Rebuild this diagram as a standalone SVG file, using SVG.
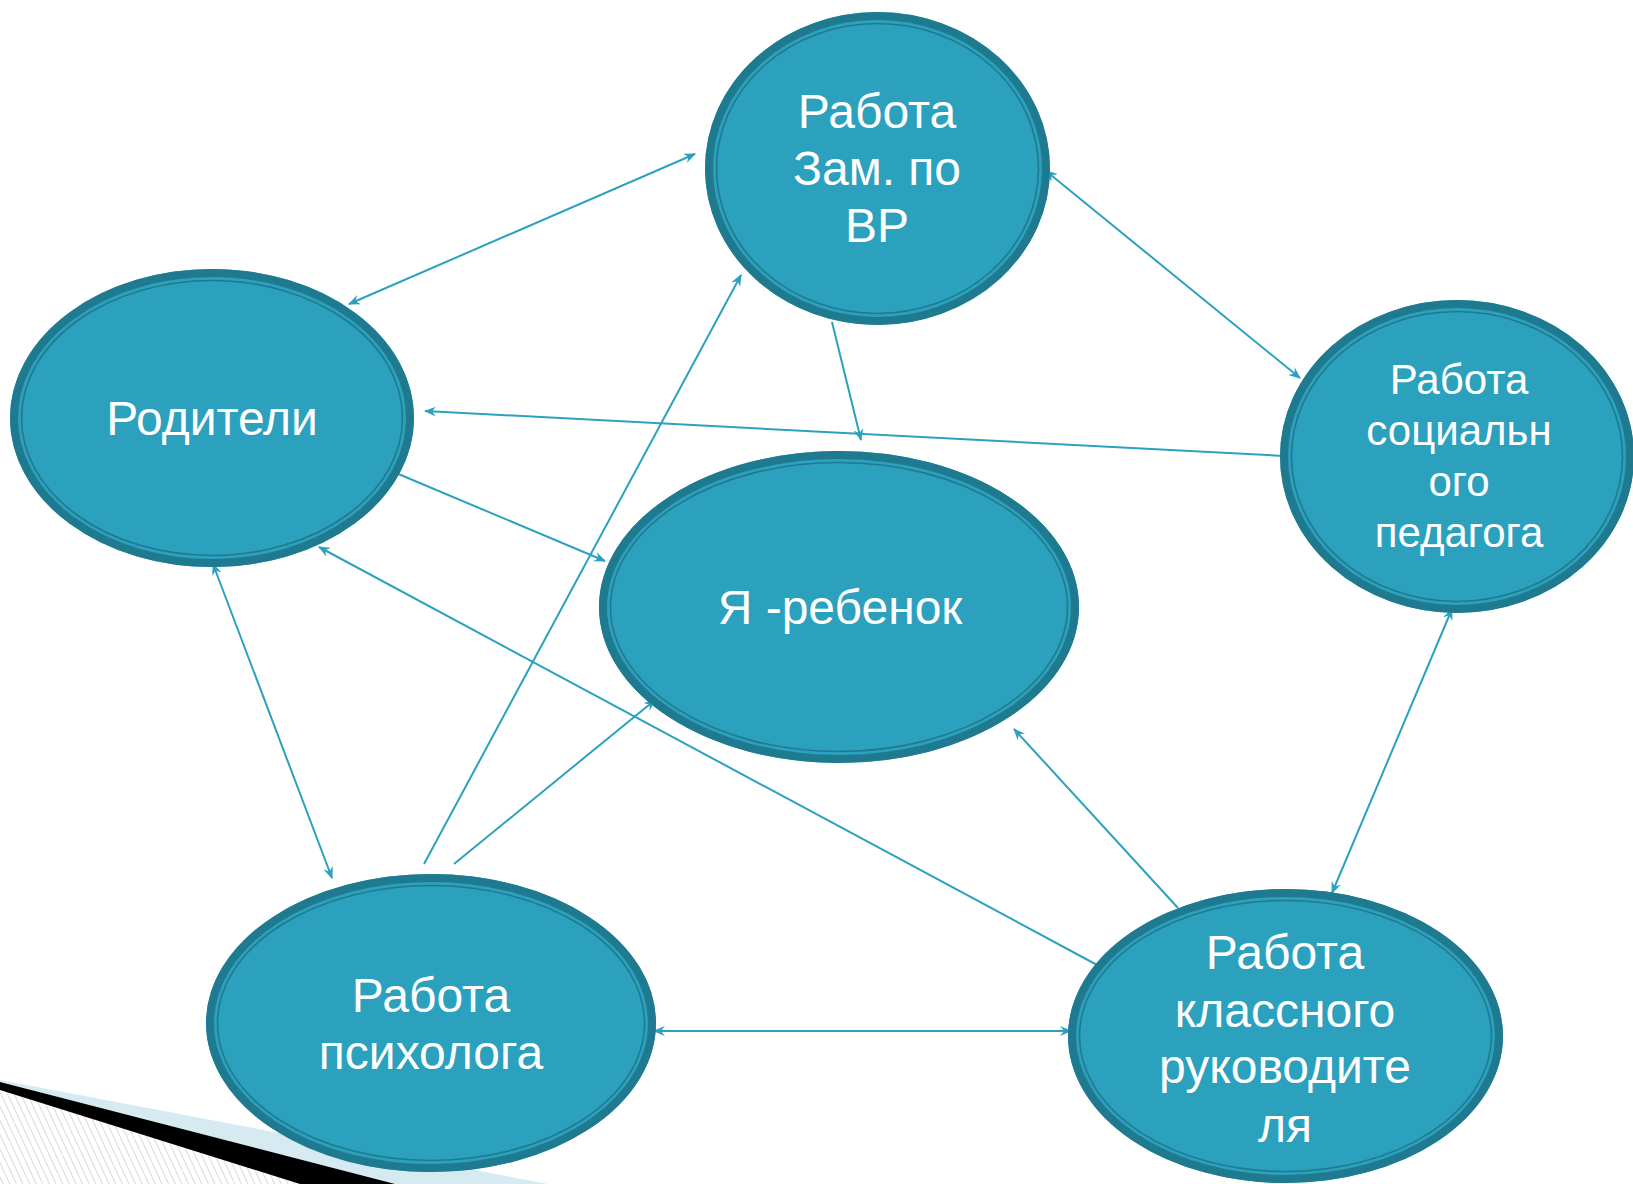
<svg xmlns="http://www.w3.org/2000/svg" width="1633" height="1184" viewBox="0 0 1633 1184">
  <style>
    .fill { fill: #2CA1BE; }
    .band { fill: none; stroke: #1F7A8F; stroke-width: 8; }
    .inner { fill: none; stroke: #1F7A8F; stroke-width: 1.6; }
    .lbl { font-family: "Liberation Sans", Arial, sans-serif; fill: #FFFFFF; text-anchor: middle; font-size: 48px; }
    .lbl-s { font-size: 42px; }
    .conn { stroke: #2CA1BE; stroke-width: 2; fill: none; }
  </style>
  <defs>
    <marker id="ah" viewBox="0 0 12 10" refX="11" refY="5" markerWidth="12" markerHeight="10" markerUnits="userSpaceOnUse" orient="auto-start-reverse">
      <path d="M0,0 L12,5 L0,10 L4,5 Z" fill="#2CA1BE"/>
    </marker>
    <pattern id="hatch" patternUnits="userSpaceOnUse" width="6" height="6" patternTransform="rotate(-25)">
      <rect width="6" height="6" fill="#FFFFFF"/>
      <line x1="0" y1="0" x2="0" y2="6" stroke="#B0B4B8" stroke-width="1"/>
    </pattern>
  </defs>

  <rect width="1633" height="1184" fill="#FFFFFF"/>

  <g id="decoration">
    <polygon points="0,1080 548,1184 0,1184" fill="#D6EAF1"/>
    <polygon points="0,1089 300,1184 0,1184" fill="url(#hatch)"/>
    <polygon points="0,1082 395,1184 300,1184 0,1090" fill="#000000"/>
  </g>

  <g id="connectors">
    <line class="conn" x1="349" y1="304" x2="695" y2="154" marker-start="url(#ah)" marker-end="url(#ah)"/>
    <line class="conn" x1="1046" y1="171" x2="1300" y2="378" marker-start="url(#ah)" marker-end="url(#ah)"/>
    <line class="conn" x1="832" y1="322" x2="861" y2="440" marker-end="url(#ah)"/>
    <line class="conn" x1="1284" y1="456" x2="425" y2="411" marker-end="url(#ah)"/>
    <line class="conn" x1="396" y1="473" x2="605" y2="561" marker-end="url(#ah)"/>
    <line class="conn" x1="213" y1="564" x2="332" y2="878" marker-start="url(#ah)" marker-end="url(#ah)"/>
    <line class="conn" x1="424" y1="864" x2="741" y2="275" marker-end="url(#ah)"/>
    <line class="conn" x1="454" y1="864" x2="655" y2="700" marker-end="url(#ah)"/>
    <line class="conn" x1="1099" y1="966" x2="319" y2="547" marker-end="url(#ah)"/>
    <line class="conn" x1="1178" y1="908" x2="1014" y2="729" marker-end="url(#ah)"/>
    <line class="conn" x1="1452" y1="609" x2="1332" y2="893" marker-start="url(#ah)" marker-end="url(#ah)"/>
    <line class="conn" x1="654" y1="1031" x2="1071" y2="1031" marker-start="url(#ah)" marker-end="url(#ah)"/>
  </g>

  <g id="node-zam">
    <ellipse class="fill" cx="877.5" cy="168.5" rx="172.5" ry="156.5"/>
    <ellipse class="band" cx="877.5" cy="168.5" rx="168.5" ry="152.5"/>
    <ellipse class="inner" cx="877.5" cy="168.5" rx="161" ry="145"/>
    <text class="lbl" x="877" y="128">Работа</text>
    <text class="lbl" x="877" y="185">Зам. по</text>
    <text class="lbl" x="877" y="242">ВР</text>
  </g>

  <g id="node-roditeli">
    <ellipse class="fill" cx="212" cy="418" rx="202" ry="149"/>
    <ellipse class="band" cx="212" cy="418" rx="198" ry="145"/>
    <ellipse class="inner" cx="212" cy="418" rx="190.5" ry="137.5"/>
    <text class="lbl" x="212" y="435">Родители</text>
  </g>

  <g id="node-ya">
    <ellipse class="fill" cx="839" cy="607" rx="240" ry="156"/>
    <ellipse class="band" cx="839" cy="607" rx="236" ry="152"/>
    <ellipse class="inner" cx="839" cy="607" rx="228.5" ry="144.5"/>
    <text class="lbl" x="840" y="624">Я -ребенок</text>
  </g>

  <g id="node-social">
    <ellipse class="fill" cx="1457" cy="456.5" rx="177" ry="156.5"/>
    <ellipse class="band" cx="1457" cy="456.5" rx="173" ry="152.5"/>
    <ellipse class="inner" cx="1457" cy="456.5" rx="165.5" ry="145"/>
    <text class="lbl lbl-s" x="1459" y="394">Работа</text>
    <text class="lbl lbl-s" x="1459" y="445">социальн</text>
    <text class="lbl lbl-s" x="1459" y="496">ого</text>
    <text class="lbl lbl-s" x="1459" y="547">педагога</text>
  </g>

  <g id="node-psych">
    <ellipse class="fill" cx="431" cy="1023" rx="225" ry="149"/>
    <ellipse class="band" cx="431" cy="1023" rx="221" ry="145"/>
    <ellipse class="inner" cx="431" cy="1023" rx="213.5" ry="137.5"/>
    <text class="lbl" x="431" y="1012">Работа</text>
    <text class="lbl" x="431" y="1069">психолога</text>
  </g>

  <g id="node-klass">
    <ellipse class="fill" cx="1285.5" cy="1036" rx="217.5" ry="147"/>
    <ellipse class="band" cx="1285.5" cy="1036" rx="213.5" ry="143"/>
    <ellipse class="inner" cx="1285.5" cy="1036" rx="206" ry="135.5"/>
    <text class="lbl" x="1285" y="969">Работа</text>
    <text class="lbl" x="1285" y="1027">классного</text>
    <text class="lbl" x="1285" y="1083">руководите</text>
    <text class="lbl" x="1285" y="1142">ля</text>
  </g>
</svg>
